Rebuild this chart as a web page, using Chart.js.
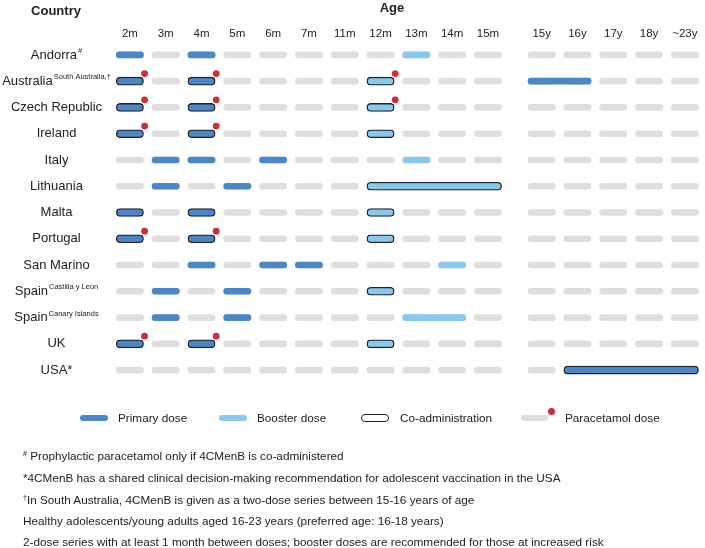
<!DOCTYPE html>
<html>
<head>
<meta charset="utf-8">
<script src="https://cdn.jsdelivr.net/npm/chart.js@4.4.1/dist/chart.umd.min.js"></script>
<style>
  html, body { margin: 0; padding: 0; background: #fff; }
  #wrap { position: relative; width: 705px; height: 548px; overflow: hidden;
          font-family: Arial, "Liberation Sans", sans-serif; color: #222; }
  #chart { position: absolute; left: 0; top: 0; }
  .lg { position: absolute; font-size: 11.75px; line-height: 14px; white-space: nowrap; }
  .pill { position: absolute; box-sizing: border-box; border-radius: 4px; }
  .dot { position: absolute; width: 7px; height: 7px; border-radius: 50%; background: #d02c3a; }
  .fn { position: absolute; left: 23px; font-size: 11.75px; line-height: 14px; white-space: nowrap; }
  .fn sup { font-size: 7px; vertical-align: 4px; line-height: 0; }
</style>
</head>
<body>
<div id="wrap">
  <canvas id="chart" width="705" height="548"></canvas>

  <span class="pill" style="left:80px;top:414.7px;width:28px;height:6px;background:#4a86c8"></span>
  <span class="lg" style="left:118px;top:410.7px">Primary dose</span>
  <span class="pill" style="left:219px;top:414.7px;width:28px;height:6px;background:#88c7ee"></span>
  <span class="lg" style="left:257px;top:410.7px">Booster dose</span>
  <span class="pill" style="left:361px;top:413.7px;width:28px;height:8px;border:1.3px solid #222;background:#fff"></span>
  <span class="lg" style="left:400px;top:410.7px">Co-administration</span>
  <span class="pill" style="left:521px;top:414.7px;width:27px;height:6px;background:#dedede"></span>
  <span class="dot" style="left:548px;top:407.5px"></span>
  <span class="lg" style="left:565px;top:410.7px">Paracetamol dose</span>

  <div class="fn" style="top:449px"><sup>#</sup> Prophylactic paracetamol only if 4CMenB is co-administered</div>
  <div class="fn" style="top:471px">*4CMenB has a shared clinical decision-making recommendation for adolescent vaccination in the USA</div>
  <div class="fn" style="top:493px"><sup>†</sup>In South Australia, 4CMenB is given as a two-dose series between 15-16 years of age</div>
  <div class="fn" style="top:514px">Healthy adolescents/young adults aged 16-23 years (preferred age: 16-18 years)</div>
  <div class="fn" style="top:535px">2-dose series with at least 1 month between doses; booster doses are recommended for those at increased risk</div>
</div>

<script>
const ageLabels = ['2m', '3m', '4m', '5m', '6m', '7m', '11m', '12m', '13m', '14m', '15m',
                   '15y', '16y', '17y', '18y', '~23y'];

const rowNames = ['Andorra', 'Australia', 'Czech Republic', 'Ireland', 'Italy', 'Lithuania', 'Malta',
                  'Portugal', 'San Marino', 'Spain (Castilla y Leon)', 'Spain (Canary Islands)', 'UK', 'USA'];
const rowLabels = ['Andorra', 'Australia', 'Czech Republic', 'Ireland', 'Italy', 'Lithuania', 'Malta',
                   'Portugal', 'San Marino', 'Spain', 'Spain', 'UK', 'USA*'];
const rowSuperscripts = ['#', 'South Australia,\u2020', '', '', '', '', '', '', '',
                         'Castilla y Leon', 'Canary Islands', '', ''];

// [country, from age, to age (if a range)]
const primaryDoses = [
  ['Andorra', '2m'], ['Andorra', '4m'],
  ['Australia', '2m'], ['Australia', '4m'], ['Australia', '15y', '16y'],
  ['Czech Republic', '2m'], ['Czech Republic', '4m'],
  ['Ireland', '2m'], ['Ireland', '4m'],
  ['Italy', '3m'], ['Italy', '4m'], ['Italy', '6m'],
  ['Lithuania', '3m'], ['Lithuania', '5m'],
  ['Malta', '2m'], ['Malta', '4m'],
  ['Portugal', '2m'], ['Portugal', '4m'],
  ['San Marino', '4m'], ['San Marino', '6m'], ['San Marino', '7m'],
  ['Spain (Castilla y Leon)', '3m'], ['Spain (Castilla y Leon)', '5m'],
  ['Spain (Canary Islands)', '3m'], ['Spain (Canary Islands)', '5m'],
  ['UK', '2m'], ['UK', '4m'],
  ['USA', '16y', '~23y']
];

const boosterDoses = [
  ['Andorra', '13m'],
  ['Australia', '12m'],
  ['Czech Republic', '12m'],
  ['Ireland', '12m'],
  ['Italy', '13m'],
  ['Lithuania', '12m', '15m'],
  ['Malta', '12m'],
  ['Portugal', '12m'],
  ['San Marino', '14m'],
  ['Spain (Castilla y Leon)', '12m'],
  ['Spain (Canary Islands)', '13m', '14m'],
  ['UK', '12m']
];

// doses given together with other vaccines (outlined)
const coAdministered = [
  ['Australia', '2m'], ['Australia', '4m'], ['Australia', '12m'],
  ['Czech Republic', '2m'], ['Czech Republic', '4m'], ['Czech Republic', '12m'],
  ['Ireland', '2m'], ['Ireland', '4m'], ['Ireland', '12m'],
  ['Lithuania', '12m'],
  ['Malta', '2m'], ['Malta', '4m'], ['Malta', '12m'],
  ['Portugal', '2m'], ['Portugal', '4m'], ['Portugal', '12m'],
  ['Spain (Castilla y Leon)', '12m'],
  ['UK', '2m'], ['UK', '4m'], ['UK', '12m'],
  ['USA', '16y']
];

const paracetamolDoses = [
  ['Australia', '2m'], ['Australia', '4m'], ['Australia', '12m'],
  ['Czech Republic', '2m'], ['Czech Republic', '4m'], ['Czech Republic', '12m'],
  ['Ireland', '2m'], ['Ireland', '4m'],
  ['Portugal', '2m'], ['Portugal', '4m'],
  ['UK', '2m'], ['UK', '4m']
];

const FONT = 'Arial, "Liberation Sans", sans-serif';
const HALF = 0.38;

// months and years are separated by a wider gap
function agePos(age) {
  const i = ageLabels.indexOf(age);
  return i > 10 ? i + 0.5 : i;
}
function isCoAdmin(d) {
  return coAdministered.some(c => c[0] === d[0] && c[1] === d[1]);
}
function spans(list, co) {
  return list.filter(d => isCoAdmin(d) === co).map(d => ({
    y: rowNames.indexOf(d[0]),
    x: [agePos(d[1]) - HALF, agePos(d[2] || d[1]) + HALF]
  }));
}

const emptyCells = [];
rowNames.forEach((r, i) => ageLabels.forEach(a => {
  emptyCells.push({ y: i, x: [agePos(a) - HALF, agePos(a) + HALF] });
}));

const barBase = { type: 'bar', indexAxis: 'y', grouped: false, borderSkipped: false, borderRadius: 10 };

const rowLabelPlugin = {
  id: 'rowLabels',
  afterDraw(chart) {
    const { ctx } = chart;
    const y = chart.scales.y;
    ctx.save();
    ctx.fillStyle = '#222';
    ctx.textBaseline = 'middle';
    ctx.textAlign = 'center';
    ctx.font = 'bold 13px ' + FONT;
    ctx.fillText('Country', 56, 11);
    ctx.fillText('Age', 392, 8);
    ctx.textAlign = 'left';
    rowLabels.forEach((name, i) => {
      const py = y.getPixelForValue(i);
      const sup = rowSuperscripts[i];
      ctx.font = '13px ' + FONT;
      const w1 = ctx.measureText(name).width;
      ctx.font = '7.5px ' + FONT;
      const w2 = sup ? ctx.measureText(sup).width + 1 : 0;
      const x0 = 56.5 - (w1 + w2) / 2;
      ctx.font = '13px ' + FONT;
      ctx.fillText(name, x0, py);
      if (sup) {
        ctx.font = '7.5px ' + FONT;
        ctx.fillText(sup, x0 + w1 + 1, py - 4);
      }
    });
    ctx.restore();
  }
};

new Chart(document.getElementById('chart'), {
  type: 'bar',
  data: {
    datasets: [
      { ...barBase, label: 'Empty', data: emptyCells, backgroundColor: '#dedede', barThickness: 6, order: 3 },
      { ...barBase, label: 'Primary dose', data: spans(primaryDoses, false), backgroundColor: '#4a86c8', barThickness: 6, order: 2 },
      { ...barBase, label: 'Primary dose (co-administered)', data: spans(primaryDoses, true), backgroundColor: '#4a86c8',
        borderColor: '#222', borderWidth: 1.3, barThickness: 8, order: 2 },
      { ...barBase, label: 'Booster dose', data: spans(boosterDoses, false), backgroundColor: '#88c7ee', barThickness: 6, order: 2 },
      { ...barBase, label: 'Booster dose (co-administered)', data: spans(boosterDoses, true), backgroundColor: '#88c7ee',
        borderColor: '#222', borderWidth: 1.3, barThickness: 8, order: 2 },
      {
        type: 'scatter', label: 'Paracetamol dose', order: 1,
        data: paracetamolDoses.map(d => ({ x: agePos(d[1]) + 0.41, y: rowNames.indexOf(d[0]) - 0.29 })),
        backgroundColor: '#d02c3a', borderWidth: 0, pointRadius: 3.4
      }
    ]
  },
  options: {
    responsive: false,
    animation: false,
    events: [],
    layout: { padding: { left: 112, right: 1.3, top: 26, bottom: 164.8 } },
    plugins: { legend: { display: false }, tooltip: { enabled: false } },
    scales: {
      x: {
        type: 'linear', position: 'top', min: -0.5, max: 15.95, offset: false,
        grid: { display: false, drawTicks: false, offset: false },
        border: { display: false },
        afterBuildTicks: s => { s.ticks = ageLabels.map(a => ({ value: agePos(a) })); },
        ticks: {
          autoSkip: false, maxRotation: 0, padding: 1, color: '#222',
          font: { size: 11.5, family: FONT },
          callback: (v, i) => ageLabels[i]
        }
      },
      y: { type: 'linear', reverse: true, min: -0.5, max: 12.5, offset: false, display: false }
    }
  },
  plugins: [rowLabelPlugin]
});
</script>
</body>
</html>
